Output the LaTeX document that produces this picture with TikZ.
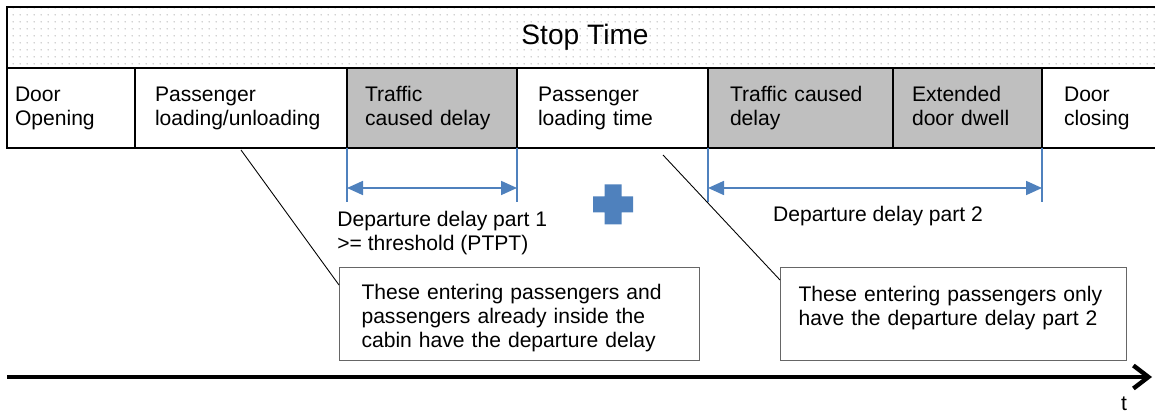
\documentclass[tikz,border=0pt]{standalone}
\usepackage{fontspec}
\setmainfont{Liberation Sans}
\usetikzlibrary{arrows.meta,positioning,patterns.meta}
\definecolor{delaygray}{RGB}{191,191,191}
\definecolor{dimblue}{RGB}{79,129,189}

\begin{document}
\begin{tikzpicture}[
        x=0.2mm, y=-0.2mm,
        font=\fontsize{12}{13.7}\selectfont,
        cell/.style={draw, line width=1pt, outer sep=0pt, minimum height=16mm, inner ysep=0pt, align=left},
        delay/.style={cell, fill=delaygray},
        stoprow/.style={draw, line width=1pt, outer sep=0pt, minimum width=231.2mm, minimum height=12.2mm,
            pattern={Dots[distance=4pt, radius=0.45pt]}, pattern color=black!35, font=\fontsize{16}{19}\selectfont},
        callout/.style={draw=black!60, line width=0.6pt, anchor=north west, align=left, inner ysep=0pt, minimum height=18.6mm},
        leader/.style={line width=0.5pt},
        dimline/.style={dimblue, line width=1.1pt},
        dimarrow/.style={dimblue, line width=1pt, {Triangle[length=3.2mm, width=2.8mm]}-{Triangle[length=3.2mm, width=2.8mm]}},
        timeaxis/.style={line width=2.5pt, -{Straight Barb[length=3mm, width=4.6mm]}}
        ]
        \useasboundingbox (0,0) rectangle (1155,414);
        \clip (0,0) rectangle (1155,414);

        % phases of the stop
        \node[cell, anchor=north west, text width=22.4mm, inner xsep=1.6mm] (c1) at (7,68) {Door\\Opening};
        \node[cell, right=0pt of c1, text width=34.4mm, inner xsep=4mm] (c2) {Passenger\\loading/unloading};
        \node[delay, right=0pt of c2, text width=26.8mm, inner xsep=3.6mm] (c3) {Traffic\\caused delay};
        \node[cell, right=0pt of c3, text width=29.8mm, inner xsep=4.2mm] (c4) {Passenger\\loading time};
        \node[delay, right=0pt of c4, text width=28.2mm, inner xsep=4.4mm] (c5) {Traffic caused\\delay};
        \node[delay, right=0pt of c5, text width=22.2mm, inner xsep=3.8mm] (c6) {Extended\\door dwell\vphantom{g}};
        \node[cell, right=0pt of c6, text width=15.4mm, inner xsep=4.4mm] (c7) {Door\\closing};
        \node[stoprow, anchor=south west] (stop) at (c1.north west) {Stop Time};

        % departure delays
        \draw[dimline] (c3.south west) -- ++(0,54);
        \draw[dimline] (c3.south east) -- ++(0,54);
        \draw[dimarrow] (c3.south west |- 0,188) -- (c3.south east |- 0,188);
        \node[anchor=west, align=left, inner sep=0pt] (part1) at (337,233) {Departure delay part 1\\>= threshold (PTPT)};

        \draw[dimline] (c5.south west) -- ++(0,54);
        \draw[dimline] (c6.south east) -- ++(0,54);
        \draw[dimarrow] (c5.south west |- 0,188) -- (c6.south east |- 0,188);
        \node[inner sep=0pt] (part2) at (878,216) {Departure delay part 2};

        \fill[dimblue] (604.5,184.5) -- (621.5,184.5) -- (621.5,196.5) -- (633,196.5) -- (633,212.5) -- (621.5,212.5)
            -- (621.5,224.5) -- (604.5,224.5) -- (604.5,212.5) -- (593,212.5) -- (593,196.5) -- (604.5,196.5) -- cycle;

        % passengers
        \node[callout, text width=63.2mm, inner xsep=4.4mm] (box1) at (339,267)
            {\rule{0pt}{13pt}These entering passengers and\\passengers already inside the\\cabin have the departure delay};
        \node[callout, text width=62mm, inner xsep=3.6mm] (box2) at (780,267)
            {\rule{0pt}{13pt}These entering passengers only\\have the departure delay part 2\\\mbox{}};
        \coordinate (src1) at (241,150);
        \coordinate (src2) at (663,155);
        \draw[leader] (src1) -- ([yshift=-3.6mm]box1.north west);
        \draw[leader] (src2) -- ([yshift=-2.6mm]box2.north west);

        % time axis
        \coordinate (t0) at (7,377);
        \coordinate (t1) at (1152,377);
        \draw[timeaxis] (t0) -- (t1);
        \node (tlabel) at (1124,404) {t};
\end{tikzpicture}
\end{document}
